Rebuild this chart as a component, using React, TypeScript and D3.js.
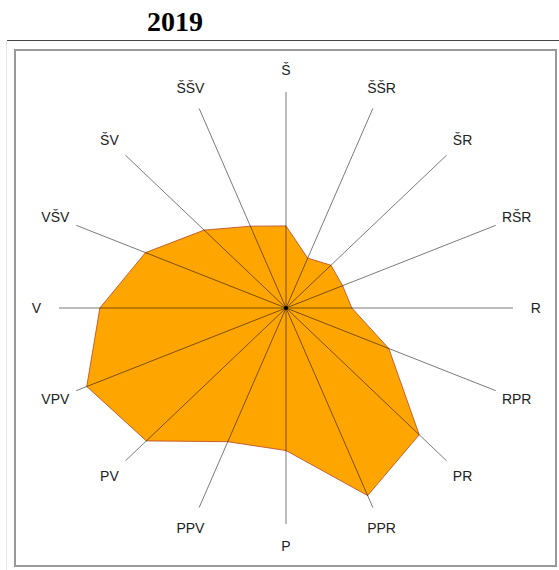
import React from 'react'
import * as d3 from 'd3'

const directions = ['Š', 'ŠŠR', 'ŠR', 'RŠR', 'R', 'RPR', 'PR', 'PPR', 'P', 'PPV', 'PV', 'VPV', 'V', 'VŠV', 'ŠV', 'ŠŠV']
const values = [0.38, 0.25, 0.28, 0.27, 0.29, 0.49, 0.83, 0.94, 0.66, 0.67, 0.87, 0.95, 0.82, 0.67, 0.51, 0.41]
const title = '2019'

export default function App() {
  const width = 559
  const height = 570
  const cx = 286
  const cy = 308

  // plot area is not square, so x and y get their own radius
  const rx = d3.scaleLinear().domain([0, 1]).range([0, 227])
  const ry = d3.scaleLinear().domain([0, 1]).range([0, 216])
  const angle = d3.scaleLinear().domain([0, directions.length]).range([0, 2 * Math.PI])

  const px = (i: number, v: number) => cx + rx(v) * Math.sin(angle(i))
  const py = (i: number, v: number) => cy - ry(v) * Math.cos(angle(i))

  const area = d3.line<number>()
    .x((d, i) => px(i, d))
    .y((d, i) => py(i, d))
    .curve(d3.curveLinearClosed)

  return (
    <svg width={width} height={height}
      style={{ position: 'fixed', left: 0, top: 0, background: '#fff' }}>
      <text x={175} y={31} textAnchor="middle"
        style={{ font: 'bold 28px "Liberation Serif", "Times New Roman", serif' }}>{title}</text>
      <line x1={7} x2={559} y1={40.5} y2={40.5} stroke="#444" strokeWidth={1} />
      <line x1={6.5} x2={6.5} y1={41} y2={570} stroke="#e4e4e4" strokeWidth={1} />
      <rect x={15} y={50} width={541} height={516} fill="#fff" stroke="#999" strokeWidth={2} />

      <path d={area(values) || ''} fill="#ffa500" stroke="#b8452a" strokeWidth={0.8} />

      {directions.map((d, i) => (
        <line key={d} x1={cx} y1={cy} x2={px(i, 1)} y2={py(i, 1)}
          stroke="#000" strokeOpacity={0.52} strokeWidth={1} />
      ))}
      <circle cx={cx} cy={cy} r={2} fill="#000" />

      {directions.map((d, i) => (
        <text key={d} x={px(i, 1.1)} y={py(i, 1.1)} textAnchor="middle" dominantBaseline="central"
          fill="#222" style={{ font: '14px "Liberation Sans", Arial, sans-serif' }}>{d}</text>
      ))}
    </svg>
  )
}
